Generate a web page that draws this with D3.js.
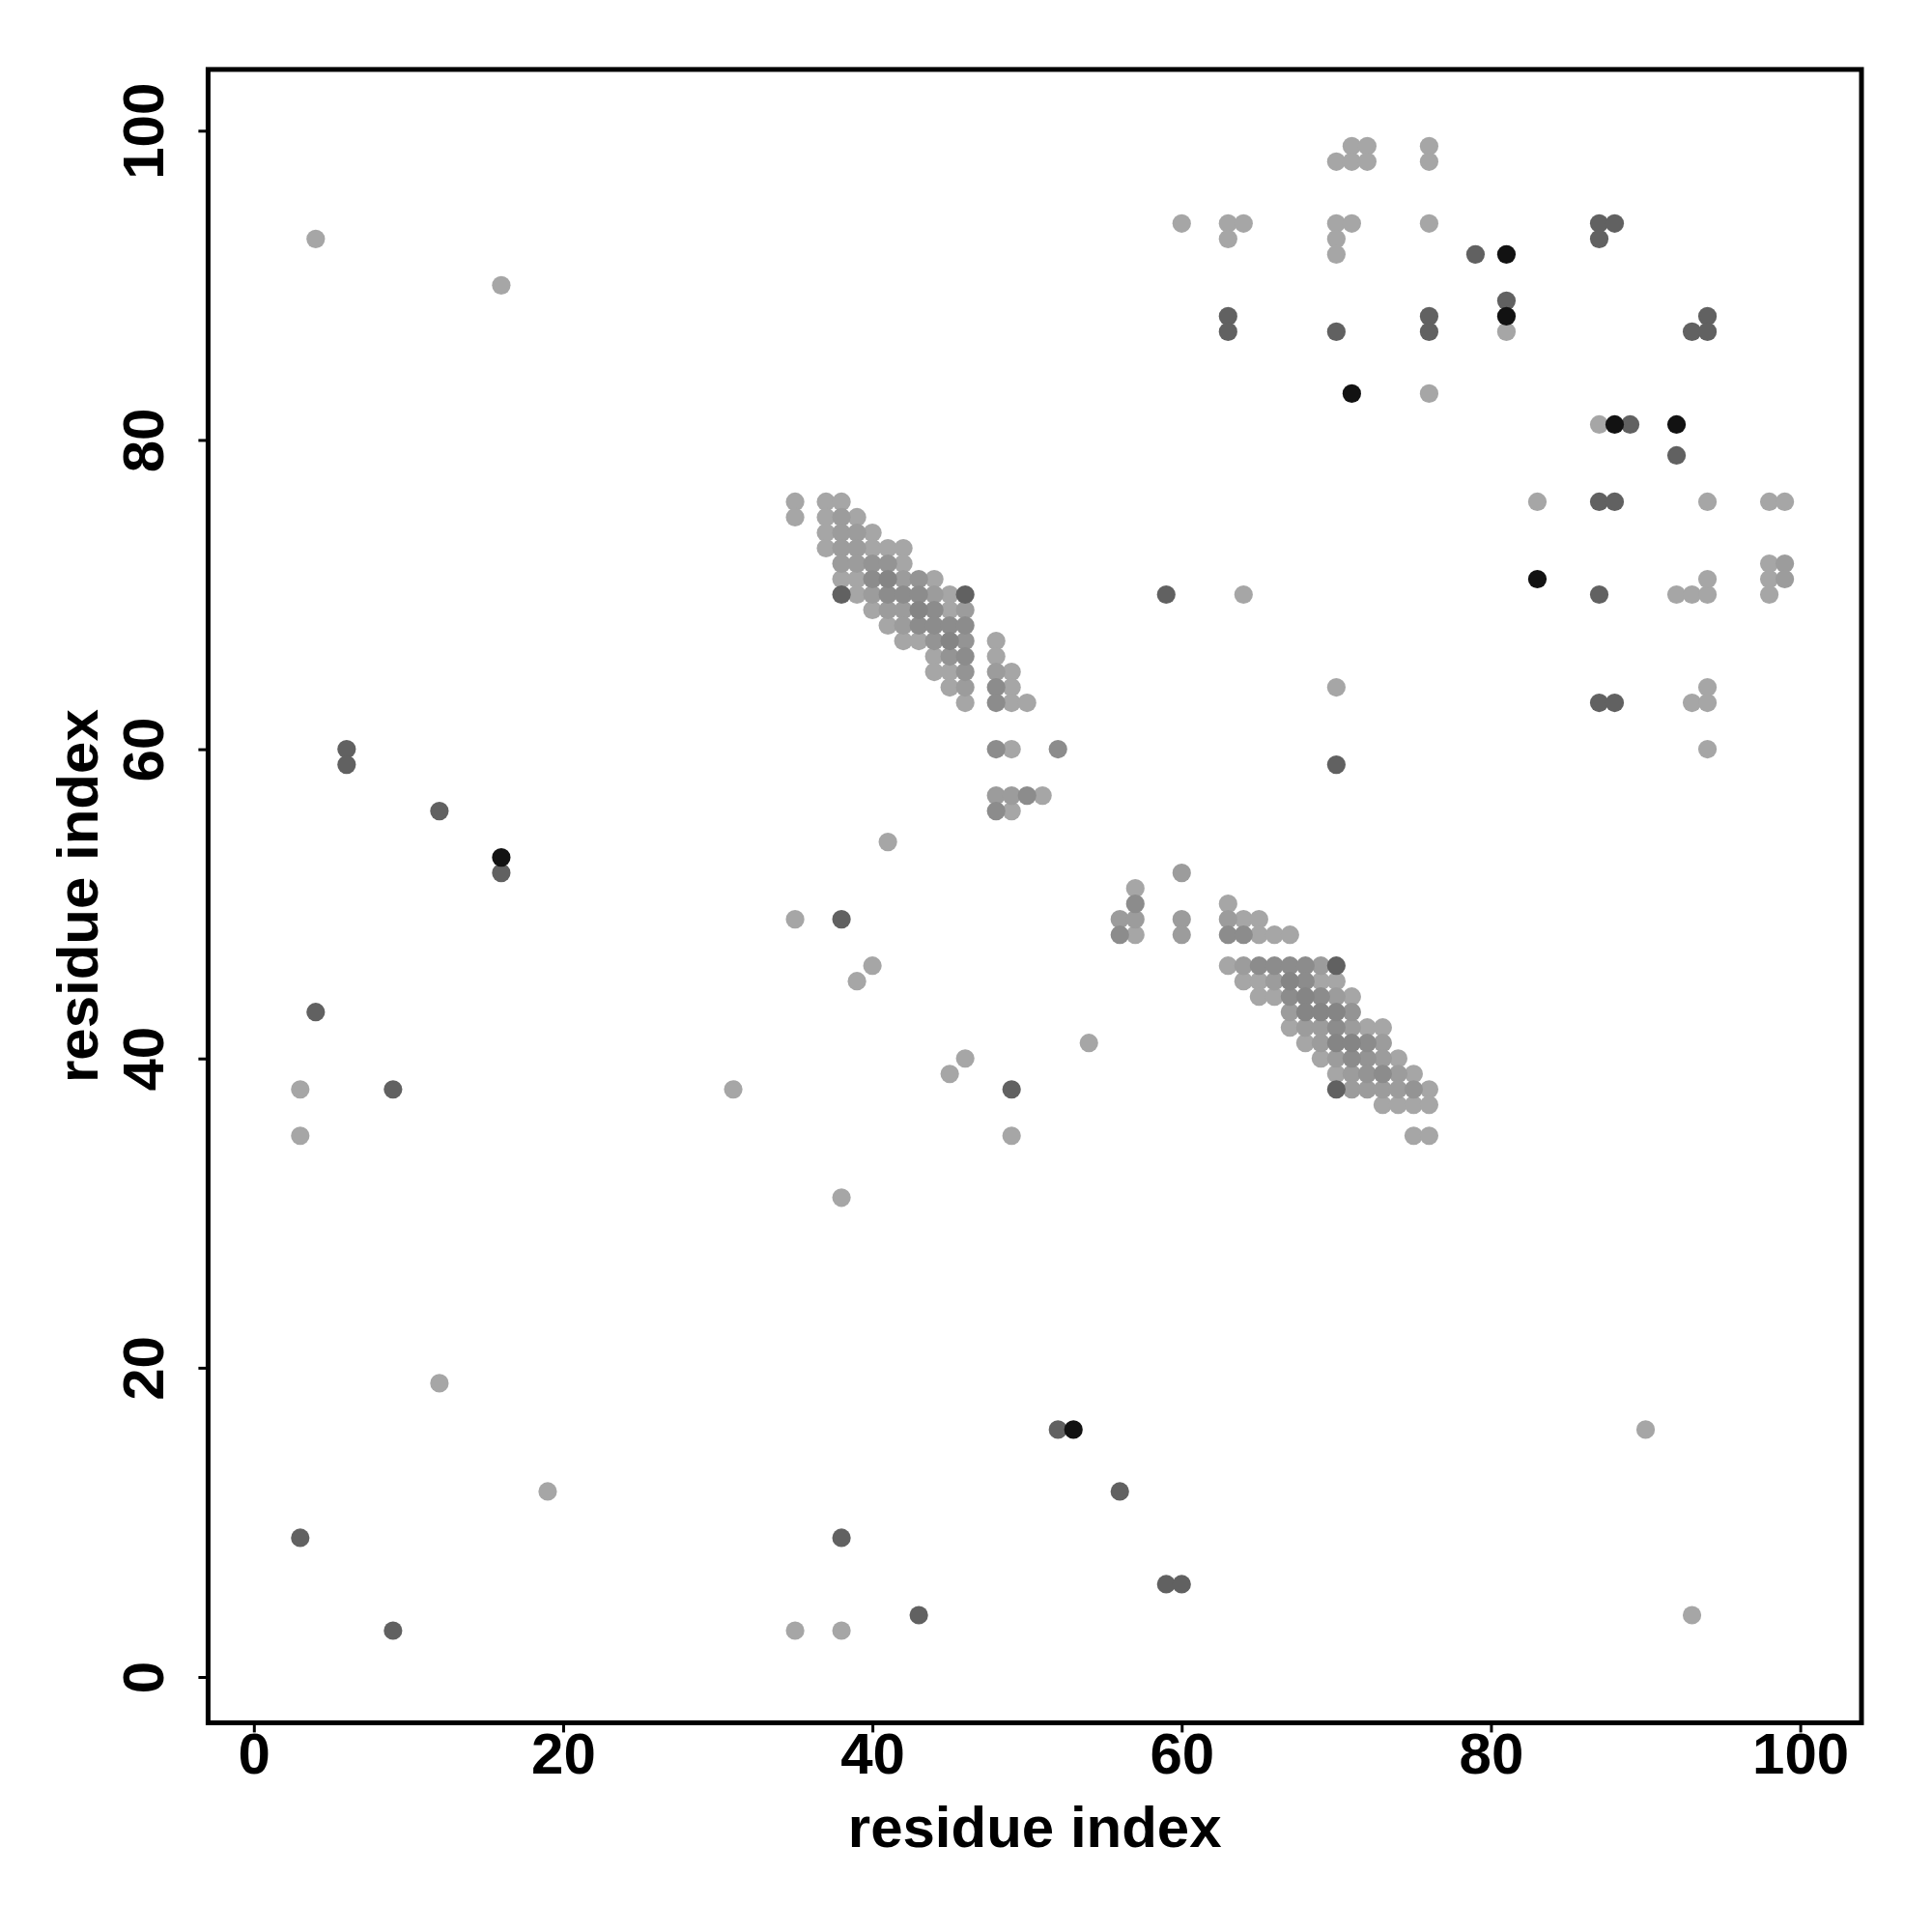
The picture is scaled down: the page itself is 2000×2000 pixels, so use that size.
<!DOCTYPE html>
<html>
<head>
<meta charset="utf-8">
<script src="https://cdn.jsdelivr.net/npm/d3@7"></script>
<style>
  html, body { margin: 0; padding: 0; background: #ffffff; }
  svg { display: block; }
  text { font-family: "Liberation Sans", Arial, Helvetica, sans-serif; font-weight: bold; }
</style>
</head>
<body>
<svg id="chart" width="2000" height="2000"></svg>
<script>
// ---- shade levels (gray intensity, 0 = black, 1 = white) ----
const L = 0.65, A = 0.61, B = 0.58, C = 0.55, E = 0.52, M = 0.38, D = 0.07;

// ---- axis ticks ----
const xTicks = [0, 20, 40, 60, 80, 100];
const yTicks = [0, 20, 40, 60, 80, 100];
const xLabel = "residue index";
const yLabel = "residue index";

// ---- contacts: [residue i, residue j, shade] ----
const scatteredContacts = [
  [4,93,L],[16,90,L],[6,60,M],[6,59,M],[12,56,M],[16,53,D],[16,52,M],[4,43,M],
  [3,38,L],[3,35,L],[9,38,M],[31,38,L],[12,19,L],[19,12,L],[3,9,M],[9,3,M],
  [35,3,L],[38,3,L],[38,9,M],[43,4,M],[38,31,L],[35,49,L],[38,49,M],[39,45,L],
  [40,46,L],[41,54,L],[45,39,L],[46,40,L],[49,38,M],[49,35,L],[54,41,L],
  [52,16,M],[53,16,D],[56,12,M],[59,6,M],[60,6,M],[90,16,L],[93,4,L],
  [59,70,M],[64,70,L],[70,64,L],[70,59,M]
];

const upperRightContacts = [
  [71,99,L],[72,99,L],[70,98,L],[71,98,L],[72,98,L],[76,99,L],[76,98,L],
  [60,94,L],[63,94,L],[64,94,L],[63,93,L],[70,94,L],[71,94,L],[70,93,L],[70,92,L],[76,94,L],
  [79,92,M],[81,92,D],[81,89,M],[81,88,D],[81,87,L],
  [63,88,M],[63,87,M],[70,87,M],[76,88,M],[76,87,M],
  [71,83,D],[76,83,L],
  [87,94,M],[88,94,M],[87,93,M],
  [94,88,M],[93,87,M],[94,87,M],
  [87,81,L],[88,81,D],[89,81,M],[92,81,D],[92,79,M],
  [83,76,L],[87,76,M],[88,76,M],[94,76,L],[98,76,L],[99,76,L],
  [83,71,D],[87,70,M],[92,70,L],[93,70,L],[94,70,L],[94,71,L],
  [98,72,L],[99,72,A],[98,71,L],[99,71,A],[98,70,L],
  [87,63,M],[88,63,M],[94,64,L],[93,63,L],[94,63,L],[94,60,L]
];

const sheetAContacts = [
  [35,76,L],[37,76,L],[38,76,L],
  [35,75,L],[37,75,L],[38,75,A],[39,75,L],
  [37,74,L],[38,74,A],[39,74,A],[40,74,L],
  [37,73,L],[38,73,A],[39,73,A],[40,73,L],[41,73,L],[42,73,L],
  [38,72,A],[39,72,A],[40,72,B],[41,72,B],[42,72,L],
  [38,71,L],[39,71,L],[40,71,C],[41,71,E],[42,71,A],[43,71,B],[44,71,L],
  [38,70,M],[39,70,L],[40,70,A],[41,70,C],[42,70,C],[43,70,C],[44,70,A],[45,70,L],[46,70,M],
  [40,69,L],[41,69,A],[42,69,A],[43,69,E],[44,69,C],[45,69,L],[46,69,A],
  [41,68,L],[42,68,A],[43,68,C],[44,68,C],[45,68,C],[46,68,C],
  [42,67,L],[43,67,L],[44,67,B],[45,67,E],[46,67,B],[48,67,L],
  [44,66,L],[45,66,B],[46,66,C],[48,66,L],
  [44,65,L],[45,65,L],[46,65,B],[48,65,A],[49,65,L],
  [45,64,L],[46,64,A],[48,64,C],[49,64,L],
  [46,63,L],[48,63,C],[49,63,L],[50,63,L],
  [48,60,C],[49,60,L],[52,60,C],
  [48,57,A],[49,57,A],[50,57,C],[51,57,L],
  [48,56,C],[49,56,L]
];

const sheetBContacts = [
  [60,52,A],
  [57,51,L],
  [57,50,C],[63,50,L],
  [56,49,A],[57,49,A],[60,49,A],[63,49,A],[64,49,L],[65,49,L],
  [56,48,C],[57,48,L],[60,48,A],[63,48,C],[64,48,C],[65,48,L],[66,48,L],[67,48,L],
  [63,46,L],[64,46,A],[65,46,C],[66,46,C],[67,46,C],[68,46,C],[69,46,A],[70,46,M],
  [64,45,L],[65,45,L],[66,45,A],[67,45,E],[68,45,C],[69,45,L],[70,45,L],
  [65,44,L],[66,44,L],[67,44,C],[68,44,E],[69,44,C],[70,44,A],[71,44,L],
  [67,43,A],[68,43,E],[69,43,E],[70,43,E],[71,43,B],
  [67,42,L],[68,42,A],[69,42,A],[70,42,C],[71,42,A],[72,42,L],[73,42,L],
  [68,41,L],[69,41,A],[70,41,E],[71,41,E],[72,41,C],[73,41,A],
  [69,40,L],[70,40,A],[71,40,C],[72,40,B],[73,40,A],[74,40,L],
  [70,39,L],[71,39,A],[72,39,B],[73,39,C],[74,39,A],[75,39,L],
  [70,38,M],[71,38,A],[72,38,A],[73,38,A],[74,38,A],[75,38,B],[76,38,L],
  [73,37,L],[74,37,L],[75,37,L],[76,37,L],
  [75,35,L],[76,35,L]
];

// ---- layout ----
const plotLeft = 215.4, plotRight = 1927, plotTop = 71.9, plotBottom = 1783.4;

const x = d3.scaleLinear().domain([-2.96, 103.96]).range([plotLeft, plotRight]);
const y = d3.scaleLinear().domain([-2.96, 103.96]).range([plotBottom, plotTop]);
const gray = d3.scaleLinear().domain([0, 1]).range(["#000000", "#ffffff"]);

const svg = d3.select("#chart");
svg.append("rect").attr("width", 2000).attr("height", 2000).attr("fill", "#ffffff");

const allContacts = [].concat(scatteredContacts, upperRightContacts, sheetAContacts, sheetBContacts)
  .map(d => ({ i: d[0], j: d[1], s: d[2] }))
  .sort((a, b) => b.s - a.s);

svg.append("g")
  .selectAll("circle")
  .data(allContacts)
  .join("circle")
  .attr("cx", d => x(d.i))
  .attr("cy", d => y(d.j))
  .attr("r", 9.6)
  .attr("fill", d => gray(d.s));

// ---- axes ----
const xAxis = svg.append("g")
  .attr("transform", `translate(0,${plotBottom})`)
  .call(d3.axisBottom(x).tickValues(xTicks).tickSize(10).tickSizeOuter(0).tickFormat(d3.format("d")));
xAxis.select(".domain").remove();
xAxis.selectAll(".tick line").attr("stroke", "#000").attr("stroke-width", 3);
xAxis.selectAll(".tick text")
  .attr("y", 53).attr("dy", null)
  .attr("fill", "#000")
  .style("font-size", "60px")
  .style("font-family", "'Liberation Sans', Arial, sans-serif")
  .style("font-weight", "bold");

const yAxis = svg.append("g")
  .attr("transform", `translate(${plotLeft},0)`)
  .call(d3.axisLeft(y).tickValues(yTicks).tickSize(10).tickSizeOuter(0).tickFormat(d3.format("d")));
yAxis.select(".domain").remove();
yAxis.selectAll(".tick line").attr("stroke", "#000").attr("stroke-width", 3);
yAxis.selectAll(".tick text")
  .attr("x", 0).attr("y", -46).attr("dy", null)
  .attr("transform", "rotate(-90)")
  .attr("text-anchor", "middle")
  .attr("fill", "#000")
  .style("font-size", "60px")
  .style("font-family", "'Liberation Sans', Arial, sans-serif")
  .style("font-weight", "bold");

// ---- box ----
svg.append("rect")
  .attr("x", plotLeft).attr("y", plotTop)
  .attr("width", plotRight - plotLeft).attr("height", plotBottom - plotTop)
  .attr("fill", "none").attr("stroke", "#000").attr("stroke-width", 5);

// ---- axis titles ----
svg.append("text")
  .attr("x", (plotLeft + plotRight) / 2).attr("y", 1912)
  .attr("text-anchor", "middle")
  .style("font-size", "60px")
  .text(xLabel);

svg.append("text")
  .attr("transform", `translate(101,${(plotTop + plotBottom) / 2}) rotate(-90)`)
  .attr("text-anchor", "middle")
  .style("font-size", "60px")
  .text(yLabel);
</script>
</body>
</html>
